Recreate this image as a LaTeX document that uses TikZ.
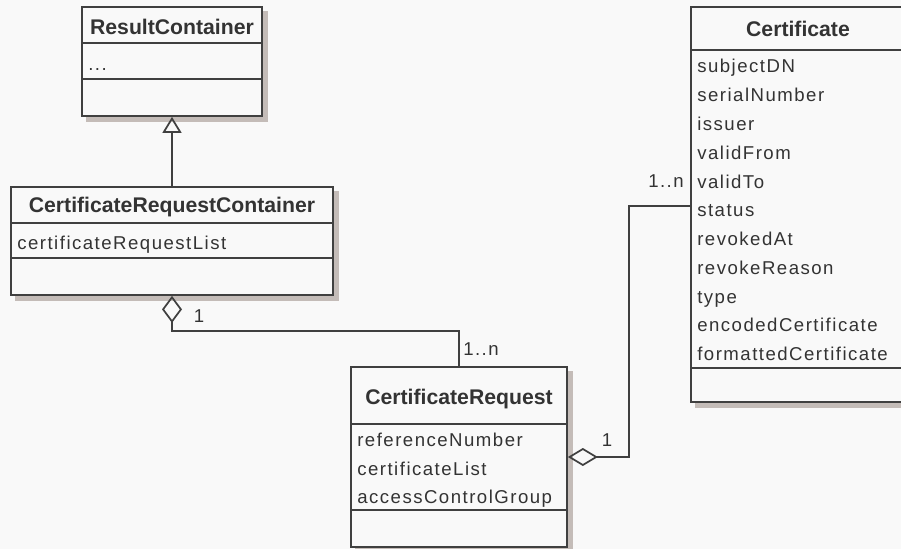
\documentclass[tikz,border=0pt]{standalone}
\usepackage{fontspec}
\setmainfont{Liberation Sans}
\newfontfamily\attrfont[LetterSpace=8]{Liberation Sans}
\usetikzlibrary{arrows.meta,fit}
\definecolor{bgc}{RGB}{249,249,249}
\definecolor{linec}{RGB}{64,64,64}
\definecolor{txtc}{RGB}{51,51,51}
\definecolor{shc}{RGB}{196,188,184}
\pgfdeclarelayer{bgzero}
\pgfdeclarelayer{bgone}
\pgfsetlayers{bgzero,bgone,main}
\begin{document}
\begin{tikzpicture}[x=0.75pt,y=-0.75pt,
  classbox/.style={draw=linec, line width=1.3pt, fill=bgc, inner sep=0pt},
  shadowbox/.style={fill=shc},
  title/.style={font={\bfseries\fontsize{15.9}{18}\selectfont}, text=txtc, inner sep=0pt, anchor=base},
  attr/.style={font={\attrfont\fontsize{13.95}{16}\selectfont}, text=txtc, inner sep=0pt, anchor=base west},
  mult/.style={font={\attrfont\fontsize{13.95}{16}\selectfont}, text=txtc, inner sep=0pt, anchor=base},
  sep/.style={draw=linec, line width=1.3pt},
  conn/.style={draw=linec, line width=1.3pt}
]
\useasboundingbox (0,0) rectangle (901,549);
\clip (0,0) rectangle (901,549);
\begin{pgfonlayer}{bgzero}
\fill[bgc] (0,0) rectangle (901,549);
\end{pgfonlayer}

% ResultContainer
\node[classbox, fit={(82,7) (262,116)}] (rc) {};
\node[title] (rct) at (172,35) {ResultContainer};
\draw[sep] (rc.west |- 0,43) -- (rc.east |- 0,43);
\draw[sep] (rc.west |- 0,79) -- (rc.east |- 0,79);
\node[attr] (rca) at (88,70.7) {...};

% CertificateRequestContainer
\node[classbox, fit={(11,187) (333,295)}] (crc) {};
\node[title] (crct) at (172,213) {CertificateRequestContainer};
\draw[sep] (crc.west |- 0,223) -- (crc.east |- 0,223);
\draw[sep] (crc.west |- 0,258) -- (crc.east |- 0,258);
\node[attr] (crca) at (17,249.3) {certificateRequestList};

% CertificateRequest
\node[classbox, fit={(351,367) (567,547)}] (cr) {};
\node[title] (crtt) at (459,405) {CertificateRequest};
\draw[sep] (cr.west |- 0,424) -- (cr.east |- 0,424);
\draw[sep] (cr.west |- 0,510) -- (cr.east |- 0,510);
\node[attr] (cra1) at (357,446.7) {referenceNumber};
\node[attr] (cra2) at (357,475.2) {certificateList};
\node[attr] (cra3) at (357,503.7) {accessControlGroup};

% Certificate
\node[classbox, fit={(691,7) (905,402)}] (cert) {};
\node[title] (certt) at (798,36.5) {Certificate};
\draw[sep] (cert.west |- 0,50) -- (cert.east |- 0,50);
\draw[sep] (cert.west |- 0,368) -- (cert.east |- 0,368);
\foreach \t [count=\i from 0] in {subjectDN,serialNumber,issuer,validFrom,validTo,status,revokedAt,revokeReason,type,encodedCertificate,formattedCertificate}{
  \node[attr] (ca\i) at (697,{73+28.77*\i}) {\t};
}

% shadows
\begin{pgfonlayer}{bgone}
\foreach \b in {rc,crc,cr,cert}{
  \fill[shadowbox] ([shift={(5,5)}]\b.north west) rectangle ([shift={(5,5)}]\b.south east);
}
\end{pgfonlayer}

% Generalization
\draw[conn, -{Triangle[open, length=12pt, width=14.25pt]}] (crc.north) -- (rc.south);

% Aggregation CRC - CR
\coordinate (b1) at (459,331);
\draw[conn, {Diamond[open, length=20.25pt, width=15pt]}-] (crc.south) |- (b1) -- (cr.north);
\node[mult] (m1) at (199,323) {1};
\node[mult] (m2) at (481,356) {1..n};

% Aggregation CR - Certificate
\coordinate (b2) at (629,206);
\draw[conn, {Diamond[open, length=22.5pt, width=13.5pt]}-] (cr.east) -| (b2) -- (cert.west |- b2);
\node[mult] (m3) at (607,446) {1};
\node[mult] (m4) at (666,188) {1..n};
\end{tikzpicture}
\end{document}
